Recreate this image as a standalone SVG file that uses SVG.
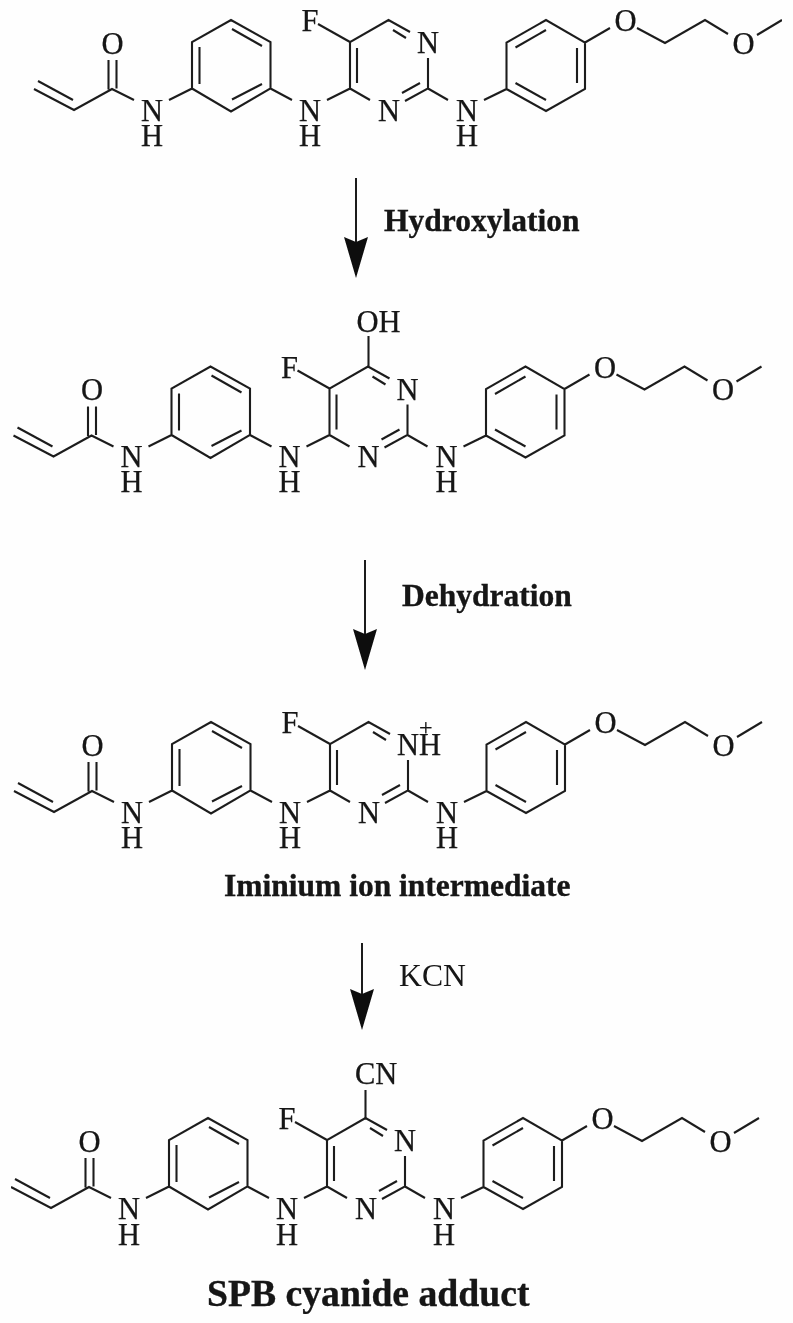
<svg xmlns="http://www.w3.org/2000/svg" width="793" height="1323" viewBox="0 0 793 1323">
<style>
.b{fill:none;stroke:#1f1f1f;stroke-width:2.1;stroke-linecap:butt;stroke-linejoin:miter}
.s{fill:none;stroke:#1f1f1f;stroke-width:2}
text{font-family:"Liberation Serif","Times New Roman",serif;fill:#141414}
.a{font-size:30.5px;text-anchor:middle;stroke:#141414;stroke-width:.25}
.l{font-size:30.5px;stroke:#141414;stroke-width:.25}
.t{font-weight:700;font-size:31.5px;stroke:#141414;stroke-width:.35}
.h{fill:#0f0f0f}
</style>
<defs>
<filter id="soft" x="0" y="0" width="100%" height="100%"><feGaussianBlur stdDeviation="0.45"/></filter>
<path id="skeleton" class="b" d="M34 89L74 110L112 89L134 100M38 81L73 100M108.5 60V89.500M116.500 60V88.500M169 100L192 88.500V42L231 20L270.500 42V88.500L231 111.500L192 88.500M199.500 47V84M232 29L262 46M232 99.500L262 84M270.500 88.500L292 100M327 100L350 88.500V42L388.500 20L410 32M318 24L350 42M357 48V83M350 88.500L370 100M393 30L406 38M428 58V88.500L405 101M420 83L402 93M428 88.500L448 100M484 100L506.500 89V42.500L546 20L585 42.500V89L546 111L506.500 89M515.500 47.500L546 30M577 48V83M515.500 83L546 100M585 42.500L610 28M637 28L665 43L705 20L728 34M757 35L782 20"/>
<path id="head" class="h" d="M-12 0L0 5L12 0L0 41Z"/>
</defs>
<rect id="background" width="793" height="1323" fill="#fefefe"/>
<g filter="url(#soft)">
<g id="molecule-1">
<use href="#skeleton"/>
<text class="a" x="112.500" y="53.500">O</text>
<text class="a"><tspan x="152" y="120.500">N</tspan><tspan x="152" y="145.500">H</tspan></text>
<text class="a"><tspan x="310" y="120.500">N</tspan><tspan x="310" y="145.500">H</tspan></text>
<text class="a" x="310" y="31">F</text><text class="a" x="389" y="120.500">N</text><text class="a" x="428" y="53">N</text>
<text class="a"><tspan x="467" y="120.500">N</tspan><tspan x="467" y="145.500">H</tspan></text>
<text class="a" x="625.500" y="31">O</text><text class="a" x="743.500" y="53.500">O</text>
</g>
<g id="molecule-2" transform="translate(-20.5 346.5)">
<use href="#skeleton"/>
<path class="b" d="M389 -10.500V20"/>
<text class="l" x="377" y="-14.500">OH</text>
<text class="a" x="112.500" y="53.500">O</text>
<text class="a"><tspan x="152" y="120.500">N</tspan><tspan x="152" y="145.500">H</tspan></text>
<text class="a"><tspan x="310" y="120.500">N</tspan><tspan x="310" y="145.500">H</tspan></text>
<text class="a" x="310" y="31">F</text><text class="a" x="389" y="120.500">N</text><text class="a" x="428" y="53">N</text>
<text class="a"><tspan x="467" y="120.500">N</tspan><tspan x="467" y="145.500">H</tspan></text>
<text class="a" x="625.500" y="31">O</text><text class="a" x="743.500" y="53.500">O</text>
</g>
<g id="molecule-3" transform="translate(-20 702)">
<use href="#skeleton"/>
<text class="l"><tspan x="417" y="53">NH</tspan><tspan x="439" y="33" font-size="24">+</tspan></text>
<text class="a" x="112.500" y="53.500">O</text>
<text class="a"><tspan x="152" y="120.500">N</tspan><tspan x="152" y="145.500">H</tspan></text>
<text class="a"><tspan x="310" y="120.500">N</tspan><tspan x="310" y="145.500">H</tspan></text>
<text class="a" x="310" y="31">F</text><text class="a" x="389" y="120.500">N</text>
<text class="a"><tspan x="467" y="120.500">N</tspan><tspan x="467" y="145.500">H</tspan></text>
<text class="a" x="625.500" y="31">O</text><text class="a" x="743.500" y="53.500">O</text>
</g>
<g id="molecule-4" transform="translate(-23 1098)">
<use href="#skeleton"/>
<path class="b" d="M388.500 -8V20"/>
<text class="l" x="378" y="-14.500">CN</text>
<text class="a" x="112.500" y="53.500">O</text>
<text class="a"><tspan x="152" y="120.500">N</tspan><tspan x="152" y="146.500">H</tspan></text>
<text class="a"><tspan x="310" y="120.500">N</tspan><tspan x="310" y="146.500">H</tspan></text>
<text class="a" x="310" y="31">F</text><text class="a" x="389" y="120.500">N</text><text class="a" x="428" y="53">N</text>
<text class="a"><tspan x="467" y="120.500">N</tspan><tspan x="467" y="146.500">H</tspan></text>
<text class="a" x="625.500" y="31">O</text><text class="a" x="743.500" y="53.500">O</text>
</g>
<g id="connectors">
<g id="arrow-1"><path class="s" d="M356 178V245"/><use href="#head" x="356" y="237"/></g>
<g id="arrow-2"><path class="s" d="M365 560V635"/><use href="#head" x="365" y="629"/></g>
<g id="arrow-3"><path class="s" d="M362 943V998"/><use href="#head" x="362" y="989"/></g>
</g>
<g id="label-hydroxylation"><text class="t" x="384" y="231">Hydroxylation</text></g>
<g id="label-dehydration"><text class="t" x="402" y="606">Dehydration</text></g>
<g id="label-iminium"><text class="t" x="224" y="896">Iminium ion intermediate</text></g>
<g id="label-kcn"><text x="399" y="986" font-size="31.7">KCN</text></g>
<g id="label-adduct"><text class="t" x="207" y="1306" style="font-size:37.700px">SPB cyanide adduct</text></g>
</g>
</svg>
